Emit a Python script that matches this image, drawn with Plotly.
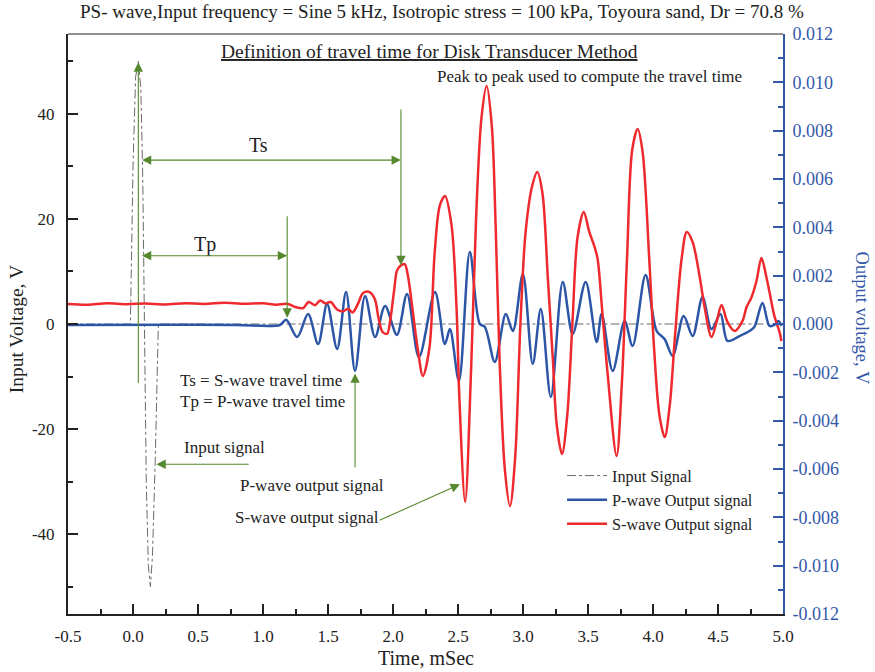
import plotly.graph_objects as go
import numpy as np

# ---- Input signal (left axis, V) : one 5 kHz sine burst
input_t = [-0.5, -0.02, 0.0, 0.02, 0.041, 0.06, 0.075, 0.088, 0.102, 0.118, 0.134, 0.15, 0.172, 0.195, 5.0]
input_v = [0.0, 0.0, 30.0, 47.0, 50.0, 45.0, 28.0, 0.0, -30.0, -46.0, -50.0, -44.0, -25.0, 0.0, 0.0]

# ---- P-wave output signal (right axis, mV)
p_t = [-0.5, 0.3, 0.8, 1.13, 1.178, 1.263, 1.347, 1.424, 1.493, 1.570, 1.639, 1.708, 1.785,
       1.862, 1.939, 2.03, 2.108, 2.20, 2.323, 2.399, 2.438, 2.507, 2.591, 2.668, 2.707,
       2.783, 2.868, 2.922, 2.999, 3.075, 3.137, 3.214, 3.306, 3.382, 3.482, 3.567, 3.605,
       3.690, 3.782, 3.843, 3.943, 4.028, 4.089, 4.151, 4.236, 4.305, 4.381, 4.450, 4.519,
       4.573, 4.665, 4.742, 4.78, 4.842, 4.896, 4.934, 4.965, 4.988]
p_mv = [-0.04, -0.03, -0.04, -0.04, 0.18, -0.54, 0.41, -0.83, 0.83, -1.03, 1.32, -1.94, 1.16,
        -0.54, 0.74, -0.45, 1.24, -1.37, 1.32, -0.83, -0.21, -2.36, 2.98, 0.0, -0.12,
        -1.57, 0.41, -0.29, 2.07, -1.65, 0.62, -3.02, 1.74, -0.41, 1.74, -0.74, 0.41,
        -1.94, 0.12, -0.91, 2.03, -0.29, -0.62, -1.32, 0.33, -0.50, 1.12, -0.21, 0.41,
        -0.70, -0.50, -0.29, -0.12, 0.87, -0.08, -0.04, 0.12, -0.08]

# ---- S-wave output signal (right axis, mV)
s_t = [-0.5, -0.35, -0.2, -0.05, 0.1, 0.25, 0.4, 0.55, 0.7, 0.85, 1.0, 1.1, 1.19, 1.25,
       1.31, 1.35, 1.40, 1.44, 1.48, 1.52, 1.57, 1.61, 1.655, 1.69, 1.73, 1.77, 1.82, 1.86,
       1.89, 1.92, 1.955, 1.98, 2.01, 2.03, 2.055, 2.09, 2.115, 2.15, 2.19, 2.23, 2.28,
       2.32, 2.36, 2.40, 2.45, 2.49, 2.51, 2.555, 2.60, 2.64, 2.68, 2.72, 2.76, 2.79, 2.82,
       2.86, 2.90, 2.94, 2.98, 3.02, 3.07, 3.11, 3.15, 3.19, 3.23, 3.26, 3.30, 3.34, 3.38,
       3.42, 3.467, 3.51, 3.55, 3.574, 3.61, 3.65, 3.72, 3.76, 3.80, 3.84, 3.882, 3.92,
       3.97, 4.01, 4.05, 4.09, 4.13, 4.166, 4.22, 4.26, 4.305, 4.358, 4.40, 4.45, 4.49,
       4.527, 4.573, 4.627, 4.688, 4.72, 4.757, 4.796, 4.834, 4.87, 4.896, 4.934, 4.973, 4.988]
s_mv = [0.83, 0.80, 0.86, 0.82, 0.85, 0.81, 0.86, 0.83, 0.88, 0.84, 0.86, 0.80, 0.83, 0.70,
        0.66, 0.91, 0.78, 0.97, 0.85, 0.91, 0.60, 0.52, 0.62, 0.48, 0.83, 1.28, 1.32, 1.03,
        0.21, -0.33, -0.40, 0.21, 1.45, 2.20, 2.40, 2.48, 1.99, 0.62, -1.03, -2.15, -1.0,
        2.9, 4.9, 5.30, 4.1, 0.5, -3.0, -7.36, -2.0, 4.5, 8.5, 9.85, 8.2, 4.0, -1.5,
        -6.0, -7.53, -5.5, 0.0, 3.8, 5.7, 6.29, 5.4, 2.0, -1.5, -4.2, -5.38, -3.8, 0.0,
        3.6, 4.63, 3.81, 3.2, 2.69, 0.5, -2.0, -5.46, -2.5, 2.69, 7.2, 8.07, 7.12,
        2.8, -1.16, -3.8, -4.68, -3.3, -0.74, 2.69, 3.81, 3.39, 1.99, 0.6, -0.54, 0.1,
        0.79, 0.08, -0.29, 0.12, 0.70, 1.1, 1.78, 2.73, 2.0, 1.32, 0.33, -0.33, -0.70]

# ---- axis tick labels
x_ticks = [-0.5, 0.0, 0.5, 1.0, 1.5, 2.0, 2.5, 3.0, 3.5, 4.0, 4.5, 5.0]
x_ticklabels = ["-0.5", "0.0", "0.5", "1.0", "1.5", "2.0", "2.5", "3.0", "3.5", "4.0", "4.5", "5.0"]
y_ticks = [-40, -20, 0, 20, 40]
y_ticklabels = ["-40", "-20", "0", "20", "40"]
y2_ticks = [-0.012, -0.010, -0.008, -0.006, -0.004, -0.002, 0.0, 0.002, 0.004, 0.006, 0.008, 0.010, 0.012]
y2_ticklabels = ["-0.012", "-0.010", "-0.008", "-0.006", "-0.004", "-0.002", "0.000",
                 "0.002", "0.004", "0.006", "0.008", "0.010", "0.012"]

SERIF = "Liberation Serif"
BLUE = "#2c55a6"
RED = "#ee2a2e"
GREEN = "#55882f"
AXBLUE = "#3358a8"
INK = "#222222"

fig = go.Figure()
fig.add_trace(go.Scatter(x=input_t, y=input_v, name="Input Signal", mode="lines",
                         line=dict(color="#6a6a6a", width=1, dash="dashdot"), yaxis="y"))
fig.add_trace(go.Scatter(x=p_t, y=np.array(p_mv) / 1000.0, name="P-wave Output signal", mode="lines",
                         line=dict(color=BLUE, width=2.5, shape="spline", smoothing=0.9), yaxis="y2"))
fig.add_trace(go.Scatter(x=s_t, y=np.array(s_mv) / 1000.0, name="S-wave Output signal", mode="lines",
                         line=dict(color=RED, width=2.5, shape="spline", smoothing=0.9), yaxis="y2"))

x_minor = [v + 0.25 for v in x_ticks[:-1]]
y_minor = [-50, -30, -10, 10, 30, 50]
y2_minor = [round(v + 0.001, 3) for v in y2_ticks[:-1]]

fig.update_layout(
    width=875, height=672,
    margin=dict(l=68, r=92, t=34, b=58),
    paper_bgcolor="white", plot_bgcolor="white",
    font=dict(family=SERIF, size=17, color=INK),
    showlegend=True,
    legend=dict(x=0.691, y=0.268, xanchor="left", yanchor="top", bgcolor="rgba(0,0,0,0)",
                font=dict(family=SERIF, size=16.2, color=INK), itemwidth=40,
                tracegroupgap=0),
    xaxis=dict(range=[-0.5, 5.0], tickmode="array", tickvals=x_ticks, ticktext=x_ticklabels,
               ticks="inside", ticklen=10, tickwidth=1.5, tickcolor=INK, ticklabelstandoff=6,
               showline=True, linecolor=INK, linewidth=2, showgrid=False, zeroline=False,
               tickfont=dict(family=SERIF, size=17, color=INK),
               minor=dict(tickvals=x_minor, ticks="inside", ticklen=5, tickwidth=1.5, tickcolor=INK)),
    yaxis=dict(range=[-55.2, 55.2], tickmode="array", tickvals=y_ticks, ticktext=y_ticklabels,
               ticks="inside", ticklen=10, tickwidth=1.5, tickcolor=INK, ticklabelstandoff=8,
               showline=True, linecolor=INK, linewidth=2, showgrid=False, zeroline=False,
               tickfont=dict(family=SERIF, size=17, color=INK),
               minor=dict(tickvals=y_minor, ticks="inside", ticklen=5, tickwidth=1.5, tickcolor=INK)),
    yaxis2=dict(range=[-0.012, 0.012], overlaying="y", side="right", tickmode="array",
                tickvals=y2_ticks, ticktext=y2_ticklabels,
                ticks="inside", ticklen=10, tickwidth=1.5, tickcolor=AXBLUE, ticklabelstandoff=4,
                showline=True, linecolor=AXBLUE, linewidth=2, showgrid=False, zeroline=False,
                tickfont=dict(family=SERIF, size=18, color=AXBLUE),
                minor=dict(tickvals=y2_minor, ticks="inside", ticklen=5, tickwidth=1.5, tickcolor=AXBLUE)),
)

# thin top frame line
fig.add_shape(type="line", xref="paper", yref="paper", x0=0, x1=1, y0=1, y1=1,
              line=dict(color=INK, width=1))

ann = []
# headings
ann.append(dict(xref="paper", yref="paper", x=0.523, y=1.038, showarrow=False, xanchor="center", yanchor="middle",
                text="PS- wave,Input frequency = Sine 5 kHz, Isotropic stress = 100 kPa, Toyoura sand, Dr = 70.8 %",
                font=dict(family=SERIF, size=19, color=INK)))
ann.append(dict(xref="paper", yref="paper", x=0.506, y=0.969, showarrow=False, xanchor="center", yanchor="middle",
                text="<u>Definition of travel time for Disk Transducer Method</u>",
                font=dict(family=SERIF, size=19.5, color=INK)))
ann.append(dict(xref="paper", yref="paper", x=0.730, y=0.926, showarrow=False, xanchor="center", yanchor="middle",
                text="Peak to peak used to compute the travel time",
                font=dict(family=SERIF, size=17, color=INK)))
# axis titles
ann.append(dict(xref="paper", yref="paper", x=-0.072, y=0.49, showarrow=False, textangle=-90,
                xanchor="center", yanchor="middle", text="Input Voltage, V",
                font=dict(family=SERIF, size=19.5, color=INK)))
ann.append(dict(xref="paper", yref="paper", x=1.110, y=0.51, showarrow=False, textangle=90,
                xanchor="center", yanchor="middle", text="Output voltage, V",
                font=dict(family=SERIF, size=18.5, color=AXBLUE)))
ann.append(dict(xref="paper", yref="paper", x=0.50, y=-0.076, showarrow=False,
                xanchor="center", yanchor="middle", text="Time, mSec",
                font=dict(family=SERIF, size=20, color=INK)))

# explanatory labels (data coordinates: time, input voltage)
def label(t, v, s, size=17, anchor="left"):
    ann.append(dict(xref="x", yref="y", x=t, y=v, text=s, showarrow=False, xanchor=anchor,
                    yanchor="middle", font=dict(family=SERIF, size=size, color=INK)))

label(0.963, 34.1, "Ts", size=20, anchor="center")
label(0.556, 15.1, "Tp", size=20, anchor="center")
label(0.349, -10.7, "Ts = S-wave travel time")
label(0.349, -14.7, "Tp = P-wave travel time")
label(0.379, -23.6, "Input signal")
label(0.809, -30.8, "P-wave output signal")
label(0.771, -36.9, "S-wave output signal")

def arrow(t0, v0, t1, v1, both=False):
    ann.append(dict(xref="x", yref="y", axref="x", ayref="y", x=t1, y=v1, ax=t0, ay=v0, text="",
                    showarrow=True, arrowhead=2, arrowsize=1.7, arrowwidth=1.1, arrowcolor=GREEN,
                    arrowside="end+start" if both else "end", startarrowhead=2, startarrowsize=1.7,
                    standoff=0, startstandoff=0))

arrow(0.041, -11.5, 0.041, 49.8)            # marks the input peak
arrow(0.057, 31.2, 2.061, 31.2, both=True)  # Ts span
arrow(2.061, 41.1, 2.061, 11.2)             # S-wave arrival peak
arrow(0.057, 13.0, 1.186, 13.0, both=True)  # Tp span
arrow(1.186, 20.8, 1.186, 1.2)              # P-wave arrival peak
arrow(0.902, -26.7, 0.180, -26.7)           # input signal pointer
arrow(1.708, -27.6, 1.708, -9.4)            # P-wave output pointer
arrow(1.885, -37.5, 2.515, -30.5)           # S-wave output pointer

fig.update_layout(annotations=ann)
fig.write_html("out.html")
